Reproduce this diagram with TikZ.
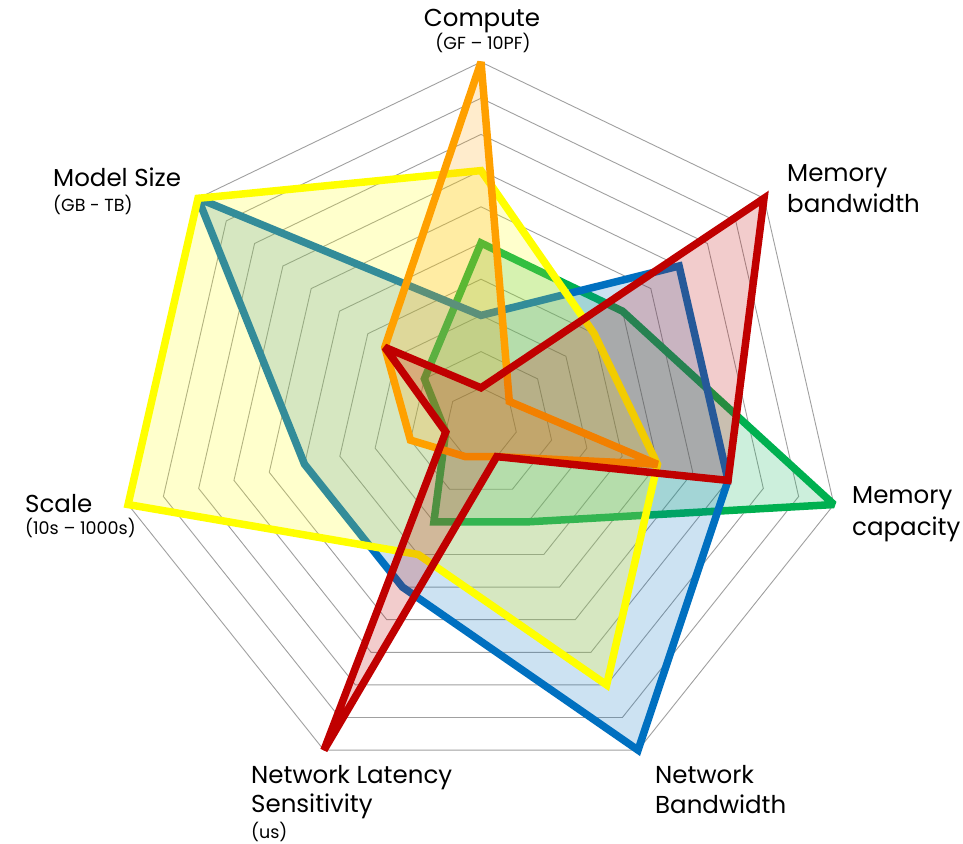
\documentclass[tikz,border=0pt]{standalone}
\usepackage{fontspec}
\setmainfont{Poppins}
\definecolor{cyel}{HTML}{FFFF00}
\definecolor{cblu}{HTML}{0070C0}
\definecolor{cgrn}{HTML}{00B050}
\definecolor{corg}{HTML}{FFA000}
\definecolor{cred}{HTML}{C00000}
\definecolor{cgrid}{HTML}{A0A0A0}
\begin{document}
\begin{tikzpicture}[x=1pt,y=-1pt,
  series/.style={line width=7.5pt, line join=miter, miter limit=2.5, draw=#1, fill=#1, fill opacity=0.2, draw opacity=1},
  ring/.style={draw=cgrid, line width=0.9pt},
  lab/.style={font=\fontsize{24.5}{29}\selectfont, anchor=base west, inner sep=0pt},
  sub/.style={font=\fontsize{17.5}{20}\selectfont, anchor=base west, inner sep=0pt}]
\useasboundingbox (0,0) rectangle (963,843);
\fill[white] (0,0) rectangle (963,843);
\begin{scope}[shift={(481,424)},x=1pt,y=1pt]
  \foreach \r in {1,...,10} {
    \draw[ring] (90:\r*36.2) \foreach \k in {1,...,6} { -- ({90-\k*360/7}:\r*36.2) } -- cycle;
  }
  % axes: Compute, Mem BW, Mem Cap, Net BW, Net Lat, Scale, Model Size
  \def\u{36.2}
  % green
  \draw[series=cgrn] (90:5*\u) -- (38.571:5*\u) -- (-12.857:10*\u) -- (-64.286:3*\u) -- (-115.714:3*\u) -- (-167.143:1*\u) -- (141.429:2*\u) -- cycle;
  % blue
  \draw[series=cblu] (90:3*\u) -- (38.571:7*\u) -- (-12.857:7*\u) -- (-64.286:10*\u) -- (-115.714:5*\u) -- (-167.143:5*\u) -- (141.429:10*\u) -- cycle;
  % yellow
  \draw[series=cyel] (90:7*\u) -- (38.571:4*\u) -- (-12.857:5*\u) -- (-64.286:8*\u) -- (-115.714:4*\u) -- (-167.143:10*\u) -- (141.429:10*\u) -- cycle;
  % orange
  \draw[series=corg] (90:10*\u) -- (38.571:1*\u) -- (-12.857:5*\u) -- (-64.286:1*\u) -- (-115.714:1*\u) -- (-167.143:2*\u) -- (141.429:3.4*\u) -- cycle;
  % red
  \draw[series=cred] (90:1*\u) -- (38.571:10*\u) -- (-12.857:7*\u) -- (-64.286:1*\u) -- (-115.714:10*\u) -- (-167.143:1*\u) -- (141.429:3.4*\u) -- cycle;
\end{scope}
% labels
\node[lab, anchor=base] (compute) at (482,27) {Compute};
\node[sub, anchor=base] (computeu) at (483,50) {(GF – 10PF)};
\node[lab] (model) at (53,186) {Model Size};
\node[sub] (modelu) at (53,211) {(GB - TB)};
\node[lab] (membw1) at (787,181) {Memory};
\node[lab] (membw2) at (787,212) {bandwidth};
\node[lab] (scale) at (25,512) {Scale};
\node[sub] (scaleu) at (25,534) {(10s – 1000s)};
\node[lab] (memcap1) at (852,503) {Memory};
\node[lab] (memcap2) at (852,535) {capacity};
\node[lab] (netlat1) at (251,783) {Network Latency};
\node[lab] (netlat2) at (251,812) {Sensitivity};
\node[sub] (netlat3) at (251,838) {(us)};
\node[lab] (netbw1) at (655,783) {Network};
\node[lab] (netbw2) at (655,813) {Bandwidth};
\end{tikzpicture}
\end{document}
